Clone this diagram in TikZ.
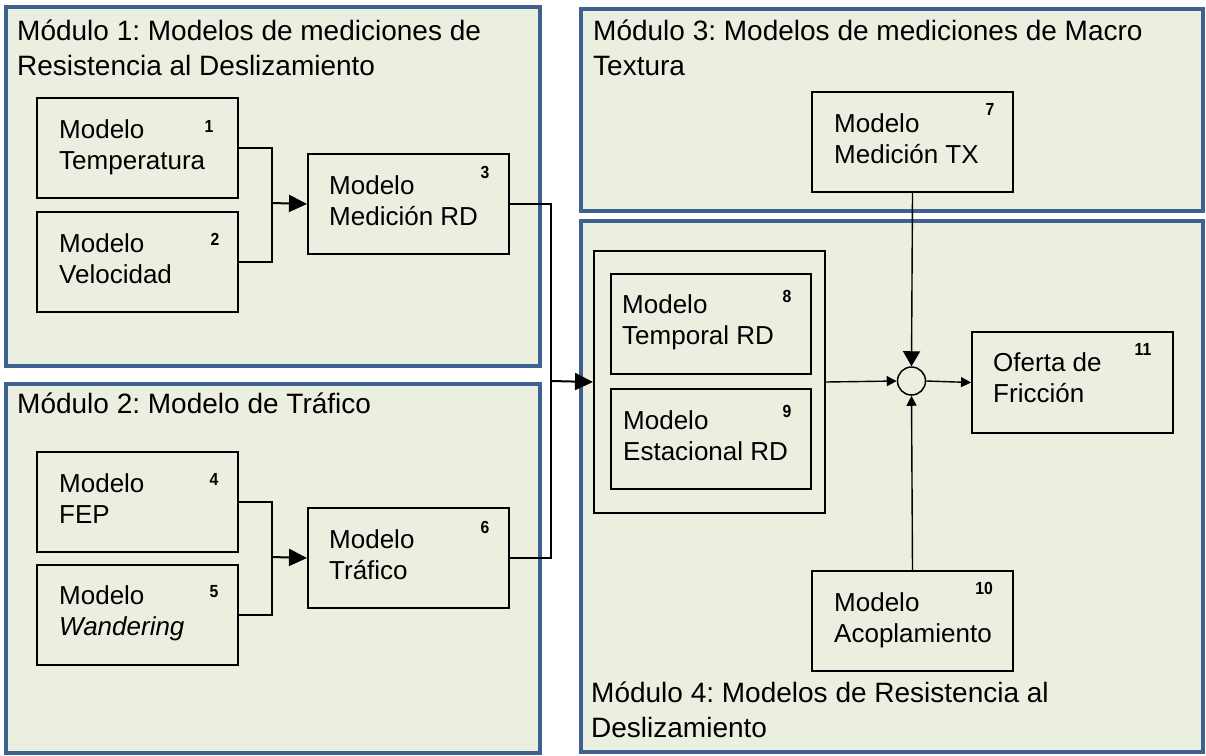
\documentclass[tikz,border=0pt]{standalone}
\usepackage{fontspec}
\setmainfont{Liberation Sans}
\usetikzlibrary{arrows.meta}
\frenchspacing

\definecolor{panel}{HTML}{EBEFDF}
\definecolor{frame}{HTML}{3F6190}

% two lines of text, the node's baseline being that of the first line
\newcommand\twoline[2]{\begin{tabular}[t]{@{}l@{}}#1\\#2\end{tabular}}

\tikzset{
  module/.style={rectangle, draw=frame, line width=4pt, fill=panel,
                 anchor=north west, inner sep=0pt},
  modbox/.style={rectangle, draw=black, line width=2pt, anchor=north west,
                 inner sep=0pt, minimum width=201pt, minimum height=100pt},
  boxtext/.style={anchor=base west, inner sep=0pt,
                  font=\fontsize{26}{31}\selectfont},
  modtitle/.style={anchor=base west, inner sep=0pt,
                   font=\fontsize{28}{35}\selectfont},
  num/.style={inner sep=0pt, xscale=0.9, font=\fontsize{17.5}{19}\selectfont\bfseries},
  feed/.style={line width=2pt},
  link/.style={line width=1.4pt},
  bigtip/.style={-{Triangle[length=18pt,width=17pt]}},
  toptip/.style={-{Triangle[length=15pt,width=17pt]}},
  smalltip/.style={-{Triangle[length=10pt,width=10pt]}},
}

\begin{document}
\begin{tikzpicture}[x=1pt, y=-1pt]
\useasboundingbox (0,0) rectangle (1206,755);

% module panels
\node[module, minimum width=534pt, minimum height=359pt] (m1) at (4,5) {};
\node[module, minimum width=534pt, minimum height=369pt] (m2) at (4,382) {};
\node[module, minimum width=622pt, minimum height=202pt] (m3) at (579,7) {};
\node[module, minimum width=622pt, minimum height=531pt] (m4) at (579,219) {};

% module titles
\node[modtitle] (tm1) at (17,40) {\twoline{Módulo 1: Modelos de mediciones de}{Resistencia al Deslizamiento}};
\node[modtitle] (tm2) at (17,413) {Módulo 2: Modelo de Tráfico};
\node[modtitle] (tm3) at (593,40) {\twoline{Módulo 3: Modelos de mediciones de Macro}{Textura}};
\node[modtitle] (tm4) at (591,702) {\twoline{Módulo 4: Modelos de Resistencia al}{Deslizamiento}};

% model boxes
\node[modbox] (b1) at (36,97) {};
\node[modbox] (b2) at (36,211) {};
\node[modbox] (b3) at (307,153) {};
\node[modbox] (b4) at (36,451) {};
\node[modbox] (b5) at (36,564) {};
\node[modbox] (b6) at (307,507) {};
\node[modbox] (b7) at (811,91) {};
\node[rectangle, draw=black, line width=2pt, anchor=north west, inner sep=0pt,
      minimum width=231pt, minimum height=262pt] (grp) at (593,250) {};
\node[modbox, minimum width=200pt] (b8) at (610,273) {};
\node[modbox, minimum width=200pt] (b9) at (610,388) {};
\node[modbox] (b10) at (811,570) {};
\node[modbox, minimum height=101pt] (b11) at (971,331) {};

% box texts
\node[boxtext] (t1) at (59,138) {\twoline{Modelo}{Temperatura}};
\node[boxtext] (t2) at (59,252) {\twoline{Modelo}{Velocidad}};
\node[boxtext] (t3) at (329,194) {\twoline{Modelo}{Medición RD}};
\node[boxtext] (t4) at (59,492) {\twoline{Modelo}{FEP}};
\node[boxtext] (t5) at (59,604) {\twoline{Modelo}{\textit{Wandering}}};
\node[boxtext] (t6) at (329,548) {\twoline{Modelo}{Tráfico}};
\node[boxtext] (t7) at (834,132) {\twoline{Modelo}{Medición TX}};
\node[boxtext] (t8) at (622,313) {\twoline{Modelo}{Temporal RD}};
\node[boxtext] (t9) at (623,429) {\twoline{Modelo}{Estacional RD}};
\node[boxtext] (t10) at (834,611) {\twoline{Modelo}{Acoplamiento}};
\node[boxtext] (t11) at (993,371) {\twoline{Oferta de}{Fricción}};

% model numbers
\node[num] (n1) at (209,126) {1};
\node[num] (n2) at (215,239) {2};
\node[num] (n3) at (485,172) {3};
\node[num] (n4) at (214,479) {4};
\node[num] (n5) at (214,592) {5};
\node[num] (n6) at (485,527) {6};
\node[num] (n7) at (990,109) {7};
\node[num] (n8) at (787,296) {8};
\node[num] (n9) at (787,411) {9};
\node[num] (n10) at (984,588) {10};
\node[num] (n11) at (1143,349) {11};

% summing junction
\node[circle, draw=black, line width=1.5pt, minimum size=28pt, inner sep=0pt] (sum) at (911.5,381) {};

% joints of the connectors
\coordinate (j1) at (272,203);
\coordinate (j3) at (272,557);
\coordinate (j2) at (551,381);

% module 1 connectors
\draw[feed] (b1.east) -| (j1) |- (b2.east);
\draw[feed, bigtip] (j1) -- (b3.west);

% module 2 connectors
\draw[feed] (b4.east) -| (j3) |- (b5.east);
\draw[feed, bigtip] (j3) -- (b6.west);

% outputs of modules 1 and 2 into module 4
\draw[link] (b3.east) -| (j2);
\draw[link] (b6.east) -| (j2);
\draw[feed, bigtip] (j2) -- (grp.west);

% module 4 connectors
\draw[link, smalltip] (grp.east) -- (sum.west);
\draw[link, toptip] (b7.south) -- (sum.north);
\draw[link, smalltip] (b10.north) -- (sum.south);
\draw[link, smalltip] (sum.east) -- (b11.west);
\end{tikzpicture}
\end{document}
